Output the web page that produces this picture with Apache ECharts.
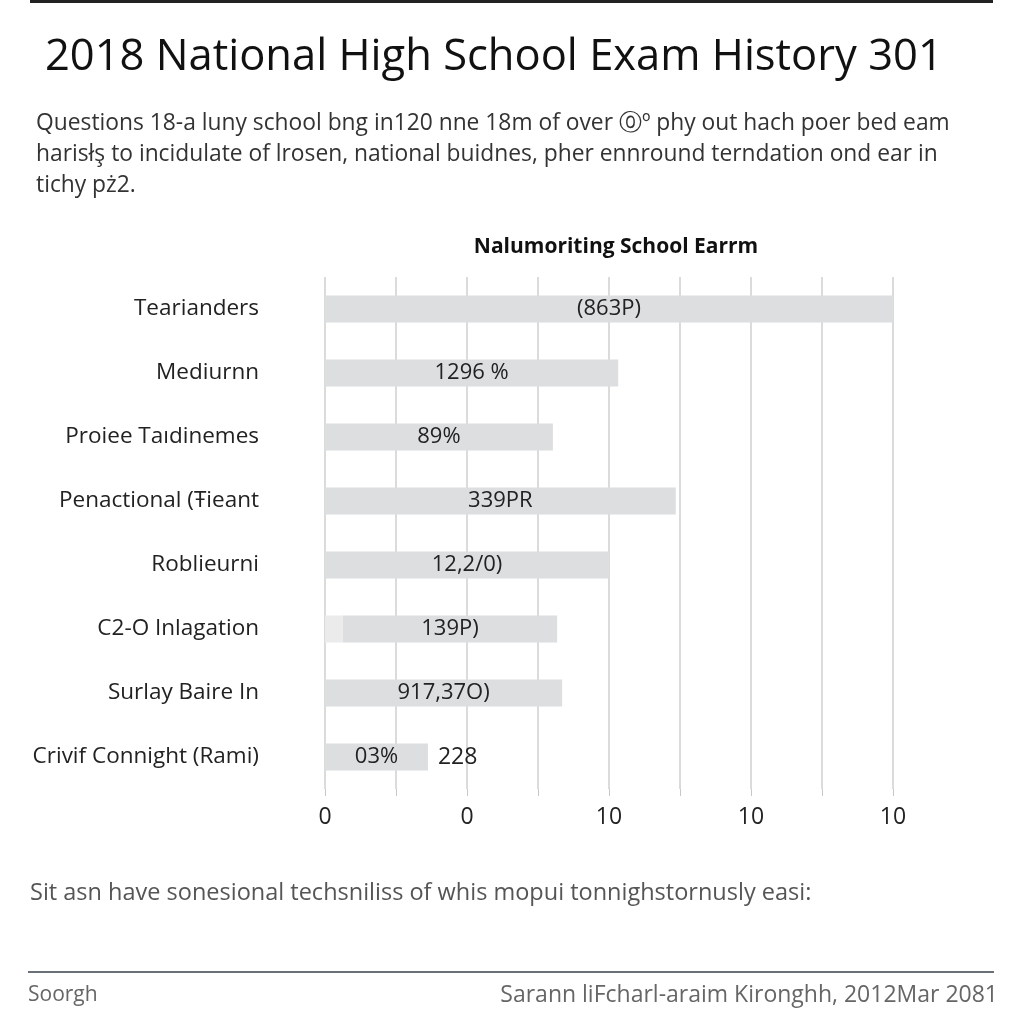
<!DOCTYPE html>
<html><head><meta charset="utf-8">
<script src="https://cdn.jsdelivr.net/npm/echarts@6/dist/echarts.min.js"></script>
<style>html,body{margin:0;padding:0;background:#fff}#c{width:1024px;height:1024px}</style>
</head><body><div id="c"></div>
<script>
const categories = ["Tearianders","Mediurnn","Proiee Taıdinemes","Penactional (Ŧieant","Roblieurni","C2-O Inlagation","Surlay Baire In","Crivif Connight (Rami)"];
const leadValues = [0, 0, 0, 0, 0, 0.25, 0, 0];
const mainValues = [8.0, 4.13, 3.21, 4.94, 4.0, 3.02, 3.34, 1.45];
const barLabels = ["(863P)","1296 %","89%","339PR","12,2/0)","139P)","917,37O)","03%"];
const outerLabels = ["","","","","","","","228"];
const tickLabels = ["0","","0","","10","","10","","10"];

const chart = echarts.init(document.getElementById('c'));
const F = 'Open Sans, Noto Sans, sans-serif';
const totals = mainValues.map((v,i)=>v+leadValues[i]);
chart.setOption({
  backgroundColor:'#ffffff',
  animation:false,
  title:{text:'Nalumoriting School Earrm',left:611,top:232,textAlign:'center',
    textStyle:{fontFamily:F,fontSize:21,fontWeight:'bold',color:'#111'}},
  grid:{left:325,top:277,width:568,height:512,containLabel:false},
  xAxis:{type:'value',min:0,max:8,interval:1,
    axisLine:{show:false},
    axisTick:{show:true,length:7,lineStyle:{color:'#c8c8c8'}},
    splitLine:{show:true,lineStyle:{color:'#cfcfcf',width:1.5}},
    axisLabel:{margin:17,fontFamily:F,fontSize:23,color:'#222',
      formatter:(v)=>tickLabels[Math.round(v)]}},
  yAxis:{type:'category',data:categories,inverse:true,
    axisLine:{show:false},axisTick:{show:false},
    axisLabel:{margin:66,fontFamily:F,fontSize:22.5,color:'#222'}},
  series:[
    {type:'bar',stack:'s',data:leadValues,barWidth:27,
      itemStyle:{color:'#ebebeb'},silent:true},
    {type:'bar',stack:'s',data:mainValues,barWidth:27,
      itemStyle:{color:'#dcdee0'},
      label:{show:true,position:'inside',fontFamily:F,fontSize:22,color:'#222',
        formatter:(p)=>barLabels[p.dataIndex]}},
    {type:'bar',data:totals,barWidth:27,barGap:'-100%',
      itemStyle:{color:'rgba(0,0,0,0)'},
      label:{show:true,position:'right',distance:10,fontFamily:F,fontSize:23,color:'#222',
        formatter:(p)=>outerLabels[p.dataIndex]}}
  ],
  graphic:[
    {type:'rect',shape:{x:30,y:0,width:963,height:3},style:{fill:'#222'}},
    {type:'text',x:45,y:58,style:{text:'2018 National High School Exam History 301',font:'43.5px '+F,fill:'#111',textVerticalAlign:'middle'}},
    {type:'text',x:36,y:124,style:{text:'Questions 18-a luny school bng in120 nne 18m of over ⓪º phy out hach poer bed eam',font:'22.8px '+F,fill:'#333',textVerticalAlign:'middle'}},
    {type:'text',x:36,y:155,style:{text:'harisłş to incidulate of lrosen, national buidnes, pher ennround terndation ond ear in',font:'22.8px '+F,fill:'#333',textVerticalAlign:'middle'}},
    {type:'text',x:36,y:186,style:{text:'tichy pż2.',font:'22.8px '+F,fill:'#333',textVerticalAlign:'middle'}},
    {type:'text',x:30,y:893,style:{text:'Sit asn have sonesional techsniliss of whis mopui tonnighstornusly easi:',font:'23.5px '+F,fill:'#555',textVerticalAlign:'middle'}},
    {type:'rect',shape:{x:28,y:971,width:966,height:2},style:{fill:'#6a6f78'}},
    {type:'text',x:28,y:995,style:{text:'Soorgh',font:'21px '+F,fill:'#666',textVerticalAlign:'middle'}},
    {type:'text',x:998,y:995,style:{text:'Sarann liFcharl-araim Kironghh, 2012Mar 2081',font:'23px '+F,fill:'#666',textAlign:'right',textVerticalAlign:'middle'}}
  ]
});
</script></body></html>
